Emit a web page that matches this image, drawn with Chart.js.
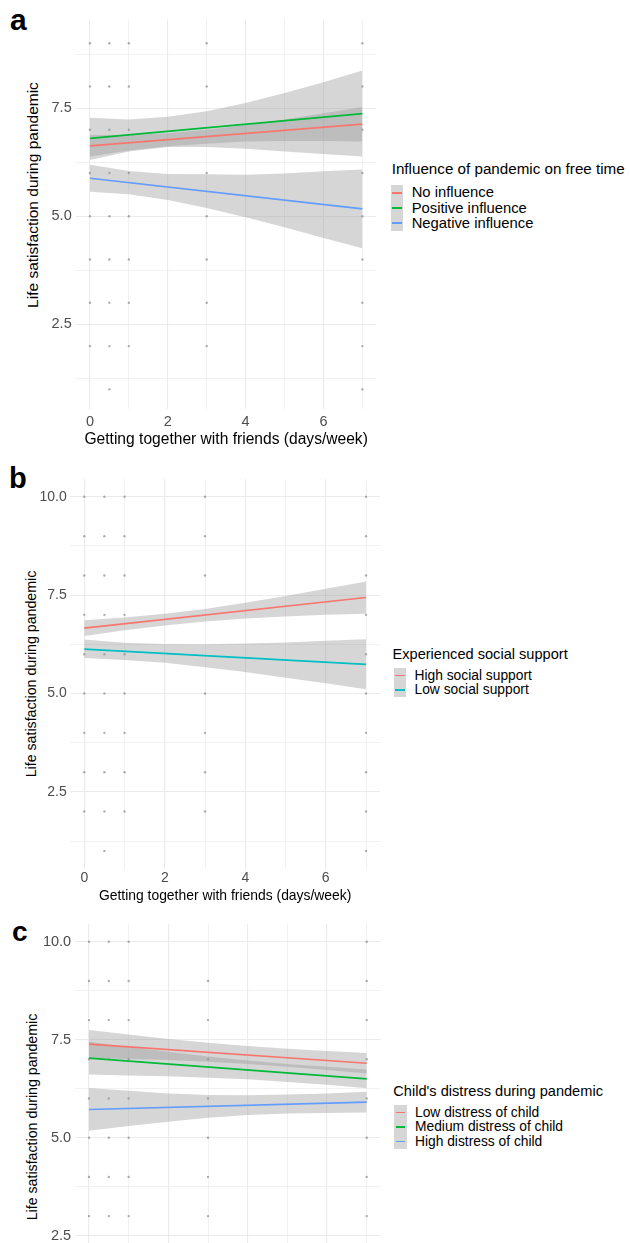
<!DOCTYPE html>
<html>
<head>
<meta charset="utf-8">
<script src="https://cdn.jsdelivr.net/npm/chart.js@4.4.1/dist/chart.umd.min.js"></script>
<style>
  body { margin: 0; width: 630px; height: 1243px; overflow: hidden; background: #fff; position: relative;
         font-family: "Liberation Sans", Arial, sans-serif; }
  canvas { position: absolute; left: 0; }
  .letter { position: absolute; font-weight: bold; line-height: 1; color: #000; }
  .ytitle { position: absolute; white-space: nowrap; line-height: 1.2; color: #000;
            transform: translate(-50%, -50%) rotate(-90deg); }
  .lg { position: absolute; white-space: nowrap; color: #000; }
  .row { position: absolute; display: flex; align-items: center; white-space: nowrap; }
  .key { position: relative; width: 12.5px; background: #d6d6d6; }
  .key div { position: absolute; left: 1.5px; right: 1.5px; top: calc(50% - 0.9px); height: 1.8px; }
</style>
</head>
<body>
<div class="letter" style="left:10px;top:4.6px;font-size:30px">a</div>
<div class="letter" style="left:9px;top:463.5px;font-size:29px">b</div>
<div class="letter" style="left:12px;top:918.3px;font-size:28px">c</div>

<div class="ytitle" style="left:33px;top:195px;font-size:15.5px">Life satisfaction during pandemic</div>
<div class="ytitle" style="left:31.5px;top:673.5px;font-size:14.2px">Life satisfaction during pandemic</div>
<div class="ytitle" style="left:32.5px;top:1117px;font-size:14.2px">Life satisfaction during pandemic</div>

<canvas id="chartA" width="380" height="450" style="top:0px"></canvas>
<canvas id="chartB" width="385" height="446" style="top:460px"></canvas>
<canvas id="chartC" width="385" height="445" style="top:910px"></canvas>

<script>
// x positions of the smooth bands (days/week)
const bandX = [0, 1, 2, 3, 4, 5, 6, 7]
const xTicks = [0, 1, 2, 3, 4, 5, 6, 7]
const xMajor = [0, 2, 4, 6]
const yMajor = [2.5, 5, 7.5, 10]

// panel a
const aTitle = 'Influence of pandemic on free time'
const aNames = ['No influence', 'Positive influence', 'Negative influence']
const aColors = ['#F8766D', '#00BA38', '#619CFF']
const aStart = [6.63, 6.80, 5.88]
const aEnd = [7.13, 7.375, 5.17]
const aLow = [
    [6.38, 6.52, 6.62, 6.68, 6.73, 6.74, 6.74, 6.73],
    [6.30, 6.50, 6.60, 6.60, 6.56, 6.50, 6.44, 6.38],
    [5.57, 5.51, 5.38, 5.19, 4.98, 4.75, 4.50, 4.26]
]
const aHigh = [
    [6.88, 6.88, 6.92, 7.00, 7.11, 7.24, 7.38, 7.53],
    [7.28, 7.24, 7.30, 7.43, 7.62, 7.85, 8.10, 8.37],
    [6.19, 6.05, 5.98, 5.97, 5.96, 5.99, 6.04, 6.08]
]
const aYTicks = [1.25, 2.5, 3.75, 5, 6.25, 7.5, 8.75]
const aDots = [
    [0, [2, 3, 4, 5, 6, 7, 8, 9]],
    [0.5, [1, 2, 3, 4, 5, 6, 7, 8, 9]],
    [1, [2, 3, 4, 5, 6, 7, 8, 9]],
    [3, [2, 3, 4, 5, 6, 8, 9]],
    [7, [1, 2, 3, 4, 5, 6, 7, 8, 9]]
]

// panel b
const bTitle = 'Experienced social support'
const bNames = ['High social support', 'Low social support']
const bColors = ['#F8766D', '#00BFC4']
const bStart = [6.66, 6.13]
const bEnd = [7.44, 5.74]
const bLow = [
    [6.46, 6.61, 6.73, 6.83, 6.91, 6.96, 7.00, 7.03],
    [5.90, 5.85, 5.78, 5.67, 5.55, 5.40, 5.26, 5.11]
]
const bHigh = [
    [6.86, 6.93, 7.03, 7.15, 7.31, 7.48, 7.66, 7.85],
    [6.37, 6.29, 6.26, 6.25, 6.27, 6.30, 6.34, 6.38]
]
const bYTicks = [1.25, 2.5, 3.75, 5, 6.25, 7.5, 8.75, 10]
const bDots = [
    [0, [2, 3, 4, 5, 6, 7, 8, 9, 10]],
    [0.5, [1, 2, 3, 4, 5, 6, 7, 8, 9, 10]],
    [1, [2, 3, 4, 5, 6, 7, 8, 9, 10]],
    [3, [2, 3, 4, 5, 8, 9, 10]],
    [7, [1, 2, 3, 4, 5, 6, 7, 8, 9, 10]]
]

// panel c
const cTitle = "Child's distress during pandemic"
const cNames = ['Low distress of child', 'Medium distress of child', 'High distress of child']
const cColors = ['#F8766D', '#00BA38', '#619CFF']
const cStart = [7.39, 7.03, 5.72]
const cEnd = [6.90, 6.50, 5.91]
const cLow = [
    [7.03, 7.01, 6.98, 6.94, 6.88, 6.81, 6.73, 6.64],
    [6.61, 6.59, 6.57, 6.53, 6.49, 6.42, 6.35, 6.26],
    [5.18, 5.30, 5.41, 5.51, 5.58, 5.62, 5.63, 5.645]
]
const cHigh = [
    [7.75, 7.63, 7.52, 7.42, 7.34, 7.27, 7.21, 7.16],
    [7.45, 7.31, 7.19, 7.07, 6.97, 6.88, 6.81, 6.74],
    [6.27, 6.20, 6.13, 6.09, 6.08, 6.10, 6.13, 6.175]
]
const cYTicks = [1.25, 2.5, 3.75, 5, 6.25, 7.5, 8.75, 10]
const cDots = [
    [0, [3, 4, 5, 6, 7, 8, 9, 10]],
    [0.5, [3, 4, 5, 6, 7, 8, 9, 10]],
    [1, [3, 4, 5, 6, 7, 8, 9, 10]],
    [3, [3, 4, 5, 6, 7, 8, 9]],
    [7, [3, 4, 5, 6, 7, 8, 9, 10]]
]

Chart.defaults.font.family = "'Liberation Sans', Arial, sans-serif"
Chart.defaults.animation = false

const bandFill = 'rgba(153,153,153,0.4)'

function makePanel(id, p) {
    const datasets = []

    // raw answers as small grey dots
    const pts = []
    p.dots.forEach(([x, ys]) => ys.forEach(y => pts.push({x: x, y: y})))
    datasets.push({data: pts, showLine: false, pointRadius: 1.2, pointBorderWidth: 0,
        pointBackgroundColor: 'rgba(110,110,110,0.55)', order: 3})

    // confidence bands, filled between low and high edge
    p.low.forEach((lo, i) => {
        const loIndex = datasets.length
        datasets.push({data: bandX.map((x, j) => ({x: x, y: lo[j]})), showLine: true,
            borderColor: 'rgba(0,0,0,0)', borderWidth: 0, pointRadius: 0, fill: false, order: 2})
        datasets.push({data: bandX.map((x, j) => ({x: x, y: p.high[i][j]})), showLine: true,
            borderColor: 'rgba(0,0,0,0)', borderWidth: 0, pointRadius: 0,
            fill: {target: loIndex}, backgroundColor: bandFill, order: 2})
    })

    // fitted regression lines
    p.start.forEach((y0, i) => {
        datasets.push({data: [{x: 0, y: y0}, {x: 7, y: p.end[i]}], showLine: true,
            borderColor: p.colors[i], borderWidth: 1.7, pointRadius: 0, fill: false, order: 1})
    })

    new Chart(document.getElementById(id), {
        type: 'scatter',
        data: {datasets: datasets},
        options: {
            responsive: false,
            devicePixelRatio: 1,
            layout: {padding: {top: p.padTop, right: p.padRight, left: 0, bottom: 0}},
            plugins: {legend: {display: false}, tooltip: {enabled: false}},
            scales: {
                x: {
                    type: 'linear', min: -0.35, max: 7.35,
                    afterBuildTicks: (ax) => { ax.ticks = xTicks.map(v => ({value: v})) },
                    afterFit: (ax) => { ax.height = p.xHeight },
                    ticks: {autoSkip: false, maxRotation: 0, padding: p.xPad, color: '#4d4d4d',
                        font: {size: p.tickSize},
                        callback: (v) => xMajor.includes(v) ? String(v) : ''},
                    grid: {drawTicks: false, color: '#ebebeb',
                        lineWidth: (c) => xMajor.includes(c.tick && c.tick.value) ? 1.1 : 0.7},
                    border: {display: false},
                    title: {display: true, text: 'Getting together with friends (days/week)', color: '#000',
                        font: {size: p.xTitleSize}, padding: {top: 0, bottom: p.xTitlePad}}
                },
                y: {
                    type: 'linear', min: p.yMin, max: p.yMax,
                    afterBuildTicks: (ax) => { ax.ticks = p.yTicks.map(v => ({value: v})) },
                    afterFit: (ax) => { ax.width = p.yWidth },
                    ticks: {autoSkip: false, padding: p.yPad, color: '#4d4d4d', font: {size: p.tickSize},
                        callback: (v) => yMajor.includes(v) ? v.toFixed(1) : ''},
                    grid: {drawTicks: false, color: '#ebebeb',
                        lineWidth: (c) => yMajor.includes(c.tick && c.tick.value) ? 1.1 : 0.7},
                    border: {display: false}
                }
            }
        }
    })
}

function addLegend(l) {
    const t = document.createElement('div')
    t.className = 'lg'
    t.style.left = l.titleX + 'px'
    t.style.top = (l.titleY - l.titleSize * 0.6) + 'px'
    t.style.fontSize = l.titleSize + 'px'
    t.style.lineHeight = '1.2'
    t.textContent = l.title
    document.body.appendChild(t)

    l.names.forEach((name, i) => {
        const row = document.createElement('div')
        row.className = 'row'
        row.style.left = l.keyX + 'px'
        row.style.top = (l.firstY + i * l.rowH - l.rowH / 2) + 'px'
        row.style.height = l.rowH + 'px'
        row.innerHTML = `<div class="key" style="height:${l.rowH}px"><div style="background:${l.colors[i]}"></div></div>` +
            `<span style="margin-left:${l.textX - l.keyX - 12.5}px;font-size:${l.itemSize}px;line-height:1">${name}</span>`
        document.body.appendChild(row)
    })
}

makePanel('chartA', {
    dots: aDots, low: aLow, high: aHigh, start: aStart, end: aEnd, colors: aColors,
    yMin: 0.55, yMax: 9.55, yTicks: aYTicks,
    padTop: 19.5, padRight: 3, yWidth: 76.3, xHeight: 41.2,
    tickSize: 14.5, xPad: 4.2, yPad: 4.6, xTitleSize: 15.6, xTitlePad: 0.8
})
makePanel('chartB', {
    dots: bDots, low: bLow, high: bHigh, start: bStart, end: bEnd, colors: bColors,
    yMin: 0.55, yMax: 10.45, yTicks: bYTicks,
    padTop: 19.1, padRight: 4.9, yWidth: 70.2, xHeight: 37.4,
    tickSize: 14, xPad: 1.3, yPad: 3.5, xTitleSize: 13.9, xTitlePad: 1.9
})
makePanel('chartC', {
    dots: cDots, low: cLow, high: cHigh, start: cStart, end: cEnd, colors: cColors,
    yMin: 0.55, yMax: 10.45, yTicks: cYTicks,
    padTop: 14.1, padRight: 4.4, yWidth: 75.1, xHeight: 42.9,
    tickSize: 14.5, xPad: 1.5, yPad: 4, xTitleSize: 14, xTitlePad: 2
})

addLegend({title: aTitle, names: aNames, colors: aColors, titleX: 391.7, keyX: 390.7, textX: 411.7,
    titleY: 169, firstY: 192.7, rowH: 15.3, titleSize: 15.2, itemSize: 14.8})
addLegend({title: bTitle, names: bNames, colors: bColors, titleX: 392.5, keyX: 393.5, textX: 414.5,
    titleY: 654.8, firstY: 675.6, rowH: 14.5, titleSize: 14.6, itemSize: 13.8})
addLegend({title: cTitle, names: cNames, colors: cColors, titleX: 393.3, keyX: 394.3, textX: 415,
    titleY: 1091.7, firstY: 1112.5, rowH: 14.5, titleSize: 14.6, itemSize: 13.8})
</script>
</body>
</html>
